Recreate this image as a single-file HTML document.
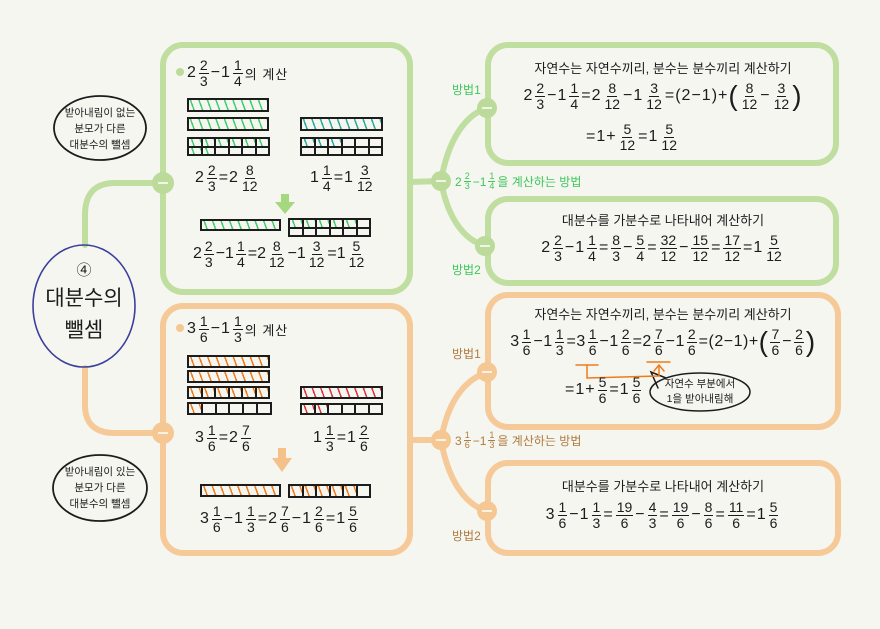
<!DOCTYPE html>
<html><head><meta charset="utf-8"><style>
body{margin:0;width:880px;height:629px;background:#f6f6f1;position:relative;overflow:hidden;font-family:"Liberation Sans","Noto Sans CJK KR",sans-serif;color:#1c1c1c}
svg{position:absolute;left:0;top:0}
.l{position:absolute;display:flex;align-items:center;white-space:nowrap;font-size:16px;letter-spacing:1px}
.c{justify-content:center}
.f{display:inline-flex;flex-direction:column;align-items:center;line-height:1.05;font-size:14px;font-style:normal;margin:0 2px;letter-spacing:0}
.f b{font-weight:normal;padding:0 1px}
.f b:first-child{border-bottom:1.5px solid #1c1c1c}
.t{position:absolute;font-size:12.5px;white-space:nowrap;text-align:center}
.bar{position:absolute;border:2px solid #1c1c1c;box-sizing:border-box}
.hg{background:repeating-linear-gradient(70deg,transparent 0 4px,#3fcf6a 4px 5.5px,transparent 5.5px 8px)}
.hb{background:repeating-linear-gradient(70deg,transparent 0 4px,#2aa9a0 4px 5.5px,transparent 5.5px 8px)}
.ho{background:repeating-linear-gradient(70deg,transparent 0 4px,#f07a1a 4px 5.5px,transparent 5.5px 8px)}
.hr{background:repeating-linear-gradient(70deg,transparent 0 4px,#e0303a 4px 5.5px,transparent 5.5px 8px)}
.grid{position:absolute;display:grid;border:1.5px solid #1c1c1c;box-sizing:border-box}
.grid i{border:1px solid #1c1c1c;display:block}
.gl{color:#3ec65a;font-size:12px;position:absolute}
.ol{color:#b07a3e;font-size:12px;position:absolute}
</style></head><body>
<svg width="880" height="629">
<g fill="none" stroke-linecap="round">
<g stroke="#c0de9f" stroke-width="6">
<rect x="163" y="45" width="247" height="247" rx="20"/>
<rect x="488" y="45" width="348" height="118" rx="20"/>
<rect x="488" y="199" width="348" height="84" rx="20"/>
<path d="M85,245 L85,215 Q85,183 115,183 L163,183"/>
<path d="M410,182 L441,181"/>
<path d="M441,181 C448,140 465,115 487,108"/>
<path d="M441,181 C448,220 465,240 485,246"/>
</g>
<g stroke="#f6ca98" stroke-width="6">
<rect x="163" y="306" width="247" height="247" rx="20"/>
<rect x="488" y="295" width="350" height="132" rx="20"/>
<rect x="488" y="463" width="350" height="90" rx="20"/>
<path d="M85,368 L85,405 Q85,433 115,433 L163,433"/>
<path d="M410,440 L441,440"/>
<path d="M441,440 C448,400 465,380 487,372"/>
<path d="M441,440 C448,480 465,505 487,511"/>
</g>
<ellipse cx="84" cy="306" rx="51" ry="61" stroke="#3b3f9c" stroke-width="1.6"/>
<ellipse cx="100" cy="128" rx="46" ry="32" stroke="#1c1c1c" stroke-width="1.8"/>
<ellipse cx="100" cy="488" rx="47" ry="33" stroke="#1c1c1c" stroke-width="1.8"/>
<ellipse cx="700" cy="392" rx="50" ry="19" stroke="#1c1c1c" stroke-width="1.5"/>
<path d="M666,378 L651,372 L658,388" stroke="#1c1c1c" stroke-width="1.5"/>
<path d="M576,365 L598,365 M587,365 L587,378 L659,376 L659,366" stroke="#f07a1a" stroke-width="1.5"/>
<path d="M654,371 L659,365 L664,371 M647,362 L670,362" stroke="#f07a1a" stroke-width="1.5"/>
</g>
<g fill="#bcdb9b"><circle cx="163" cy="183" r="11"/><circle cx="441" cy="181" r="10"/><circle cx="487" cy="108" r="10"/><circle cx="485" cy="246" r="10"/><circle cx="180" cy="72" r="4"/></g>
<g fill="#f5c792"><circle cx="163" cy="433" r="11"/><circle cx="441" cy="440" r="10"/><circle cx="487" cy="372" r="10"/><circle cx="487" cy="511" r="10"/><circle cx="180" cy="328" r="4"/></g>
<g stroke="#fff" stroke-width="1.5"><path d="M158,183h10M436,181h10M482,108h10M480,246h10M158,433h10M436,440h10M482,372h10M482,511h10"/></g>
<path d="M281,194 h8 v8 h6 l-10,12 l-10,-12 h6z" fill="#a6d880"/>
<path d="M278,448 h8 v10 h6 l-10,14 l-10,-14 h6z" fill="#f5c08a"/>
</svg>

<div class="t" style="left:34px;top:259px;width:100px;font-size:15px">④</div>
<div class="t" style="left:34px;top:282px;width:100px;font-size:21px">대분수의</div>
<div class="t" style="left:34px;top:314px;width:100px;font-size:21px">뺄셈</div>
<div class="t" style="left:55px;top:105px;width:90px;font-size:10.5px;line-height:16px">받아내림이 없는<br>분모가 다른<br>대분수의 뺄셈</div>
<div class="t" style="left:55px;top:464px;width:90px;font-size:10.5px;line-height:16px">받아내림이 있는<br>분모가 다른<br>대분수의 뺄셈</div>

<div class="l" style="left:187px;top:58px">2<i class="f"><b>2</b><b>3</b></i>−1<i class="f"><b>1</b><b>4</b></i><span style="font-size:13px">의 계산</span></div>
<div class="bar hg" style="left:187px;top:98px;width:82px;height:14px"></div>
<div class="bar hg" style="left:187px;top:117px;width:82px;height:14px"></div>
<div class="grid" style="left:187px;top:137px;width:83px;height:19px;grid-template-columns:repeat(6,1fr)"><i class="hg"></i><i class="hg"></i><i class="hg"></i><i class="hg"></i><i class="hg"></i><i class="hg"></i><i class="hg"></i><i class="hg"></i><i></i><i></i><i></i><i></i></div>
<div class="bar hb" style="left:300px;top:117px;width:83px;height:14px"></div>
<div class="grid" style="left:300px;top:137px;width:83px;height:19px;grid-template-columns:repeat(6,1fr)"><i class="hb"></i><i class="hb"></i><i class="hb"></i><i></i><i></i><i></i><i></i><i></i><i></i><i></i><i></i><i></i></div>
<div class="l" style="left:195px;top:163px">2<i class="f"><b>2</b><b>3</b></i>=2<i class="f"><b>8</b><b>12</b></i></div>
<div class="l" style="left:310px;top:163px">1<i class="f"><b>1</b><b>4</b></i>=1<i class="f"><b>3</b><b>12</b></i></div>
<div class="bar hg" style="left:200px;top:219px;width:81px;height:12px"></div>
<div class="grid" style="left:288px;top:218px;width:83px;height:19px;grid-template-columns:repeat(6,1fr)"><i class="hg"></i><i class="hg"></i><i class="hg"></i><i class="hg"></i><i class="hg"></i><i></i><i></i><i></i><i></i><i></i><i></i><i></i></div>
<div class="l" style="left:193px;top:239px;letter-spacing:0">2<i class="f"><b>2</b><b>3</b></i>−1<i class="f"><b>1</b><b>4</b></i>=2<i class="f"><b>8</b><b>12</b></i>−1<i class="f"><b>3</b><b>12</b></i>=1<i class="f"><b>5</b><b>12</b></i></div>

<div class="l" style="left:187px;top:314px">3<i class="f"><b>1</b><b>6</b></i>−1<i class="f"><b>1</b><b>3</b></i><span style="font-size:13px">의 계산</span></div>
<div class="bar ho" style="left:187px;top:355px;width:83px;height:13px"></div>
<div class="bar ho" style="left:187px;top:370px;width:83px;height:13px"></div>
<div class="grid" style="left:187px;top:386px;width:83px;height:13px;grid-template-columns:repeat(6,1fr)"><i class="ho"></i><i class="ho"></i><i class="ho"></i><i class="ho"></i><i class="ho"></i><i class="ho"></i></div>
<div class="grid" style="left:187px;top:402px;width:85px;height:13px;grid-template-columns:repeat(6,1fr)"><i class="ho"></i><i></i><i></i><i></i><i></i><i></i></div>
<div class="bar hr" style="left:300px;top:386px;width:83px;height:13px"></div>
<div class="grid" style="left:300px;top:403px;width:83px;height:12px;grid-template-columns:repeat(6,1fr)"><i class="hr"></i><i class="hr"></i><i></i><i></i><i></i><i></i></div>
<div class="l" style="left:195px;top:423px">3<i class="f"><b>1</b><b>6</b></i>=2<i class="f"><b>7</b><b>6</b></i></div>
<div class="l" style="left:313px;top:423px">1<i class="f"><b>1</b><b>3</b></i>=1<i class="f"><b>2</b><b>6</b></i></div>
<div class="bar ho" style="left:200px;top:484px;width:81px;height:13px"></div>
<div class="grid" style="left:288px;top:484px;width:83px;height:14px;grid-template-columns:repeat(6,1fr)"><i class="ho"></i><i class="ho"></i><i class="ho"></i><i class="ho"></i><i class="ho"></i><i></i></div>
<div class="l" style="left:200px;top:504px">3<i class="f"><b>1</b><b>6</b></i>−1<i class="f"><b>1</b><b>3</b></i>=2<i class="f"><b>7</b><b>6</b></i>−1<i class="f"><b>2</b><b>6</b></i>=1<i class="f"><b>5</b><b>6</b></i></div>

<div class="gl" style="left:452px;top:81px">방법1</div>
<div class="gl" style="left:452px;top:261px">방법2</div>
<div class="gl l" style="left:455px;top:172px;color:#3ec65a;font-size:12px;letter-spacing:0">2<i class="f" style="font-size:9px"><b style="border-color:#3ec65a">2</b><b>3</b></i>−1<i class="f" style="font-size:9px"><b style="border-color:#3ec65a">1</b><b>4</b></i>을 계산하는 방법</div>
<div class="t" style="left:488px;top:58px;width:350px;font-size:13px">자연수는 자연수끼리, 분수는 분수끼리 계산하기</div>
<div class="l c" style="left:488px;top:80px;width:350px">2<i class="f"><b>2</b><b>3</b></i>−1<i class="f"><b>1</b><b>4</b></i>=2<i class="f"><b>8</b><b>12</b></i>−1<i class="f"><b>3</b><b>12</b></i>=(2−1)+<span style="font-size:28px">(</span><i class="f"><b>8</b><b>12</b></i>−<i class="f"><b>3</b><b>12</b></i><span style="font-size:28px">)</span></div>
<div class="l c" style="left:488px;top:122px;width:290px">=1+<i class="f"><b>5</b><b>12</b></i>=1<i class="f"><b>5</b><b>12</b></i></div>
<div class="t" style="left:488px;top:210px;width:350px;font-size:13px">대분수를 가분수로 나타내어 계산하기</div>
<div class="l c" style="left:488px;top:233px;width:350px">2<i class="f"><b>2</b><b>3</b></i>−1<i class="f"><b>1</b><b>4</b></i>=<i class="f"><b>8</b><b>3</b></i>−<i class="f"><b>5</b><b>4</b></i>=<i class="f"><b>32</b><b>12</b></i>−<i class="f"><b>15</b><b>12</b></i>=<i class="f"><b>17</b><b>12</b></i>=1<i class="f"><b>5</b><b>12</b></i></div>

<div class="ol" style="left:452px;top:345px">방법1</div>
<div class="ol" style="left:452px;top:527px">방법2</div>
<div class="ol l" style="left:455px;top:431px;color:#b07a3e;font-size:12px;letter-spacing:0">3<i class="f" style="font-size:9px"><b style="border-color:#b07a3e">1</b><b>6</b></i>−1<i class="f" style="font-size:9px"><b style="border-color:#b07a3e">1</b><b>3</b></i>을 계산하는 방법</div>
<div class="t" style="left:488px;top:304px;width:350px;font-size:13px">자연수는 자연수끼리, 분수는 분수끼리 계산하기</div>
<div class="l c" style="left:488px;top:326px;width:350px;letter-spacing:0.5px">3<i class="f"><b>1</b><b>6</b></i>−1<i class="f"><b>1</b><b>3</b></i>=3<i class="f"><b>1</b><b>6</b></i>−1<i class="f"><b>2</b><b>6</b></i>=2<i class="f"><b>7</b><b>6</b></i>−1<i class="f"><b>2</b><b>6</b></i>=(2−1)+<span style="font-size:28px">(</span><i class="f"><b>7</b><b>6</b></i>−<i class="f"><b>2</b><b>6</b></i><span style="font-size:28px">)</span></div>
<div class="l" style="left:565px;top:375px">=1+<i class="f"><b>5</b><b>6</b></i>=1<i class="f"><b>5</b><b>6</b></i></div>
<div class="t" style="left:655px;top:377px;width:90px;font-size:10.5px;line-height:15px">자연수 부분에서<br>1을 받아내림해</div>
<div class="t" style="left:488px;top:476px;width:350px;font-size:13px">대분수를 가분수로 나타내어 계산하기</div>
<div class="l c" style="left:488px;top:500px;width:350px">3<i class="f"><b>1</b><b>6</b></i>−1<i class="f"><b>1</b><b>3</b></i>=<i class="f"><b>19</b><b>6</b></i>−<i class="f"><b>4</b><b>3</b></i>=<i class="f"><b>19</b><b>6</b></i>−<i class="f"><b>8</b><b>6</b></i>=<i class="f"><b>11</b><b>6</b></i>=1<i class="f"><b>5</b><b>6</b></i></div>
</body></html>
